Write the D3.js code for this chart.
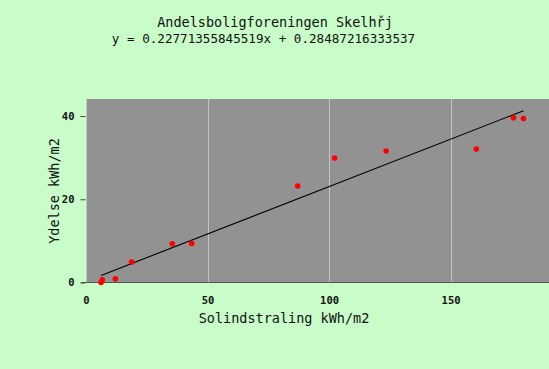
<!DOCTYPE html>
<html>
<head>
<meta charset="utf-8">
<script src="https://cdn.jsdelivr.net/npm/d3@7"></script>
<style>
  html, body { margin: 0; padding: 0; background: #c8fcc8; }
  svg { display: block; }
</style>
</head>
<body>
<svg id="chart" width="549" height="369"></svg>
<script>
// Measured production vs. solar irradiation
const solindstraling = [6.2, 6.7, 12.1, 18.8, 35.5, 43.5, 87.1, 102.3, 123.5, 160.6, 175.9, 180.0];
const ydelse         = [0.0, 0.65, 0.9, 4.9, 9.3, 9.4, 23.2, 29.9, 31.6, 32.1, 39.6, 39.4];
const xTicks = [0, 50, 100, 150];
const yTicks = [0, 20, 40];
const slope = 0.22771355845519;
const intercept = 0.28487216333537;
const title = "Andelsboligforeningen Skelhřj";
const equation = "y = 0.22771355845519x + 0.28487216333537";

const W = 549, H = 369;
const plot = { left: 86, right: 549, top: 99, bottom: 282.5 };
const mono = "'DejaVu Sans Mono', 'Liberation Mono', monospace";

const svg = d3.select("#chart");
svg.append("rect").attr("width", W).attr("height", H).attr("fill", "#c8fcc8");

const x = d3.scaleLinear().domain([0, 190.5]).range([plot.left, plot.right]);
const y = d3.scaleLinear().domain([0, 44.1]).range([plot.bottom, plot.top]);

// plot area
svg.append("rect")
  .attr("x", plot.left).attr("y", plot.top)
  .attr("width", plot.right - plot.left).attr("height", plot.bottom - plot.top)
  .attr("fill", "#929292");

// vertical gridlines
svg.append("g").selectAll("line").data(xTicks).join("line")
  .attr("x1", d => Math.round(x(d)) + 0.5).attr("x2", d => Math.round(x(d)) + 0.5)
  .attr("y1", plot.top).attr("y2", plot.bottom)
  .attr("stroke", "#c4c4c4").attr("stroke-width", 1);

// x axis baseline
svg.append("line")
  .attr("x1", 81).attr("x2", plot.right)
  .attr("y1", y(0)).attr("y2", y(0))
  .attr("stroke", "#555555").attr("stroke-width", 1.2);

// y axis ticks and labels
const yAxis = d3.axisLeft(y).tickValues(yTicks).tickSize(5).tickPadding(6).tickFormat(d3.format("d"));
const gy = svg.append("g").attr("transform", `translate(${plot.left - 0.5},0)`).call(yAxis);
gy.select(".domain").remove();
gy.selectAll(".tick line").attr("stroke", "#444");
gy.selectAll(".tick text")
  .attr("font-family", mono).attr("font-size", 10.5).attr("font-weight", "bold").attr("fill", "#111");

// x axis labels
const xAxis = d3.axisBottom(x).tickValues(xTicks).tickSize(0).tickPadding(14).tickFormat(d3.format("d"));
const gx = svg.append("g").attr("transform", `translate(0,${plot.bottom})`).call(xAxis);
gx.select(".domain").remove();
gx.selectAll(".tick text")
  .attr("font-family", mono).attr("font-size", 10.5).attr("font-weight", "bold").attr("fill", "#111");

// regression line across the observed x range
const xr = d3.extent(solindstraling);
svg.append("line")
  .attr("x1", x(xr[0])).attr("y1", y(slope * xr[0] + intercept))
  .attr("x2", x(xr[1])).attr("y2", y(slope * xr[1] + intercept))
  .attr("stroke", "#000").attr("stroke-width", 1.1);

// observations
svg.append("g").selectAll("circle").data(solindstraling).join("circle")
  .attr("cx", (d) => x(d))
  .attr("cy", (d, i) => y(ydelse[i]))
  .attr("r", 2.8)
  .attr("fill", "#ff0000");

// titles
svg.append("text").attr("x", 275).attr("y", 27)
  .attr("text-anchor", "middle").attr("font-family", mono).attr("font-size", 13.5).attr("fill", "#111")
  .text(title);
svg.append("text").attr("x", 263.5).attr("y", 43)
  .attr("text-anchor", "middle").attr("font-family", mono).attr("font-size", 12.6).attr("fill", "#111")
  .text(equation);

// axis titles
svg.append("text").attr("x", 284).attr("y", 323)
  .attr("text-anchor", "middle").attr("font-family", mono).attr("font-size", 13.5).attr("fill", "#111")
  .text("Solindstraling kWh/m2");
svg.append("text")
  .attr("transform", "translate(59,191) rotate(-90)")
  .attr("text-anchor", "middle").attr("font-family", mono).attr("font-size", 13.5).attr("fill", "#111")
  .text("Ydelse kWh/m2");
</script>
</body>
</html>
